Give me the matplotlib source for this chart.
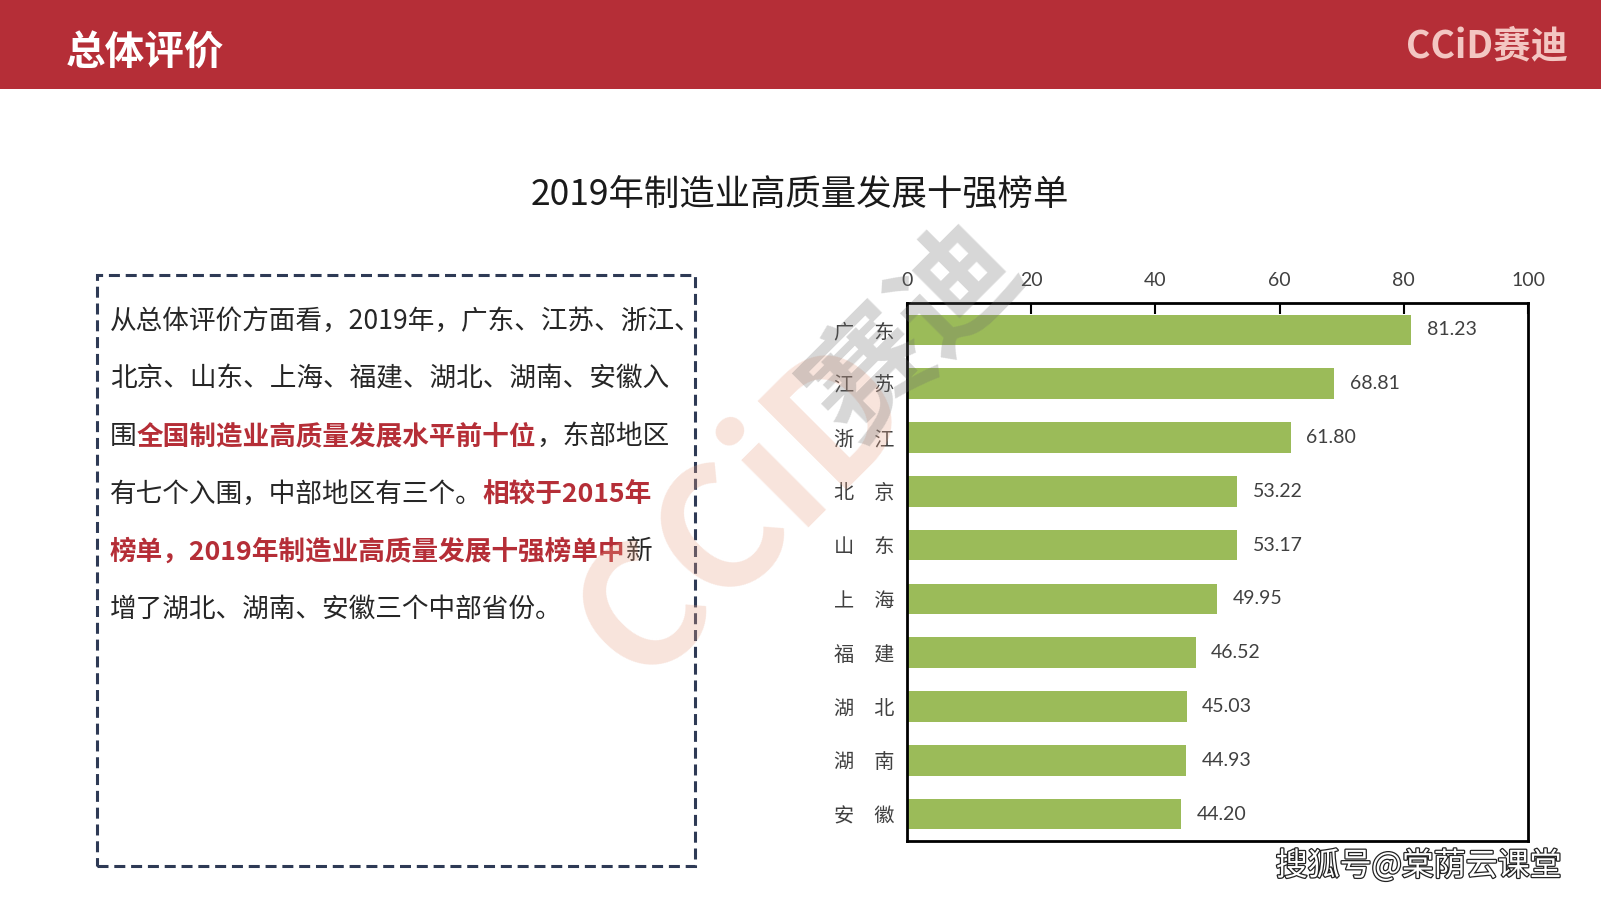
import matplotlib
matplotlib.use('Agg')
import matplotlib.pyplot as plt
import matplotlib.patheffects as pe
from matplotlib.patches import Rectangle

# Data
provinces = ['广　东', '江　苏', '浙　江', '北　京', '山　东',
             '上　海', '福　建', '湖　北', '湖　南', '安　徽']
scores = [81.23, 68.81, 61.80, 53.22, 53.17, 49.95, 46.52, 45.03, 44.93, 44.20]
xticks = [0, 20, 40, 60, 80, 100]

header_title = '总体评价'
chart_title = '2019年制造业高质量发展十强榜单'
# paragraph lines: (segment, highlighted)
paragraph = [
    [('从总体评价方面看，2019年，广东、江苏、浙江、', False)],
    [('北京、山东、上海、福建、湖北、湖南、安徽入', False)],
    [('围', False), ('全国制造业高质量发展水平前十位', True), ('，东部地区', False)],
    [('有七个入围，中部地区有三个。', False), ('相较于2015年', True)],
    [('榜单，2019年制造业高质量发展十强榜单中', True), ('新', False)],
    [('增了湖北、湖南、安徽三个中部省份。', False)],
]

CJK = ['Noto Sans CJK SC', 'DejaVu Sans']
NUM = ['Lato', 'Noto Sans CJK SC', 'DejaVu Sans']
plt.rcParams['font.family'] = CJK

W, H = 1601, 901
RED = '#B52E37'
GREEN = '#9BBB59'

fig = plt.figure(figsize=(W / 100, H / 100), dpi=100)
fig.patch.set_facecolor('white')


def fx(x):
    return x / W


def fy(y):
    return 1 - y / H


# Header band
fig.patches.append(Rectangle((0, fy(89)), 1, 89 / H, transform=fig.transFigure,
                             facecolor=RED, edgecolor='none', zorder=0))
fig.text(fx(66), fy(53), header_title, color='white', fontsize=28.5,
         fontweight='bold', va='center', ha='left')
fig.text(fx(1568), fy(46), 'CCiD赛迪', color='#F3C6C2', fontsize=27,
         fontweight='bold', va='center', ha='right')

# Chart title
fig.text(fx(800), fy(196), chart_title, color='#1A1A1A', fontsize=25.5,
         va='center', ha='center')

# Dashed text box
box = Rectangle((fx(97), fy(866)), (695 - 97) / W, (866 - 275) / H,
                transform=fig.transFigure, facecolor='none',
                edgecolor='#2E3A55', linewidth=2.2, zorder=1)
box.set_linestyle((0, (3.6, 1.9)))
fig.patches.append(box)

renderer = fig.canvas.get_renderer()
for i, line in enumerate(paragraph):
    x = 110
    y = 321 + i * 57.7
    for seg, hl in line:
        t = fig.text(fx(x), fy(y), seg, fontsize=19.2, va='center', ha='left',
                     color=RED if hl else '#262626',
                     fontweight='bold' if hl else 'normal')
        x += t.get_window_extent(renderer).width

# Bar chart
ax = fig.add_axes([fx(907), fy(841), (1528 - 907) / W, (841 - 303) / H])
ypos = list(range(len(provinces)))
bars = ax.barh(ypos, scores, height=0.57, color=GREEN, zorder=2)
ax.set_xlim(0, 100)
ax.set_ylim(len(provinces) - 0.5, -0.5)
ax.xaxis.tick_top()
ax.set_xticks(xticks)
ax.set_xticklabels([str(v) for v in xticks], family=NUM, fontsize=14, color='#404040')
ax.tick_params(axis='x', direction='in', length=8, width=1.5, pad=10, colors='black',
               labelcolor='#404040')
ax.set_yticks(ypos)
ax.set_yticklabels(provinces, fontsize=14.5, color='#404040')
ax.tick_params(axis='y', length=0, pad=9)
for s in ax.spines.values():
    s.set_linewidth(2)
    s.set_color('black')

for b, v in zip(bars, scores):
    ax.annotate(f'{v:.2f}', (b.get_width(), b.get_y() + b.get_height() / 2),
                xytext=(11, 0), textcoords='offset points', va='center', ha='left',
                family=NUM, fontsize=14, color='#404040')

# Diagonal CCiD watermark
fig.text(fx(745), fy(512), 'CCiD', color='#E9A58A', alpha=0.3, fontsize=122,
         fontweight='bold', rotation=45, ha='center', va='center', zorder=10)
fig.text(fx(915), fy(334), '赛迪', color='#6E6E6E', alpha=0.28, fontsize=88,
         fontweight='bold', rotation=45, ha='center', va='center', zorder=10)

# Source watermark bottom right
fig.text(fx(1562), fy(866), '搜狐号@棠荫云课堂', color='white', fontsize=23,
         ha='right', va='center', zorder=11,
         path_effects=[pe.withStroke(linewidth=1.8, foreground='#222222')])

fig.savefig('out.png', dpi=100)
